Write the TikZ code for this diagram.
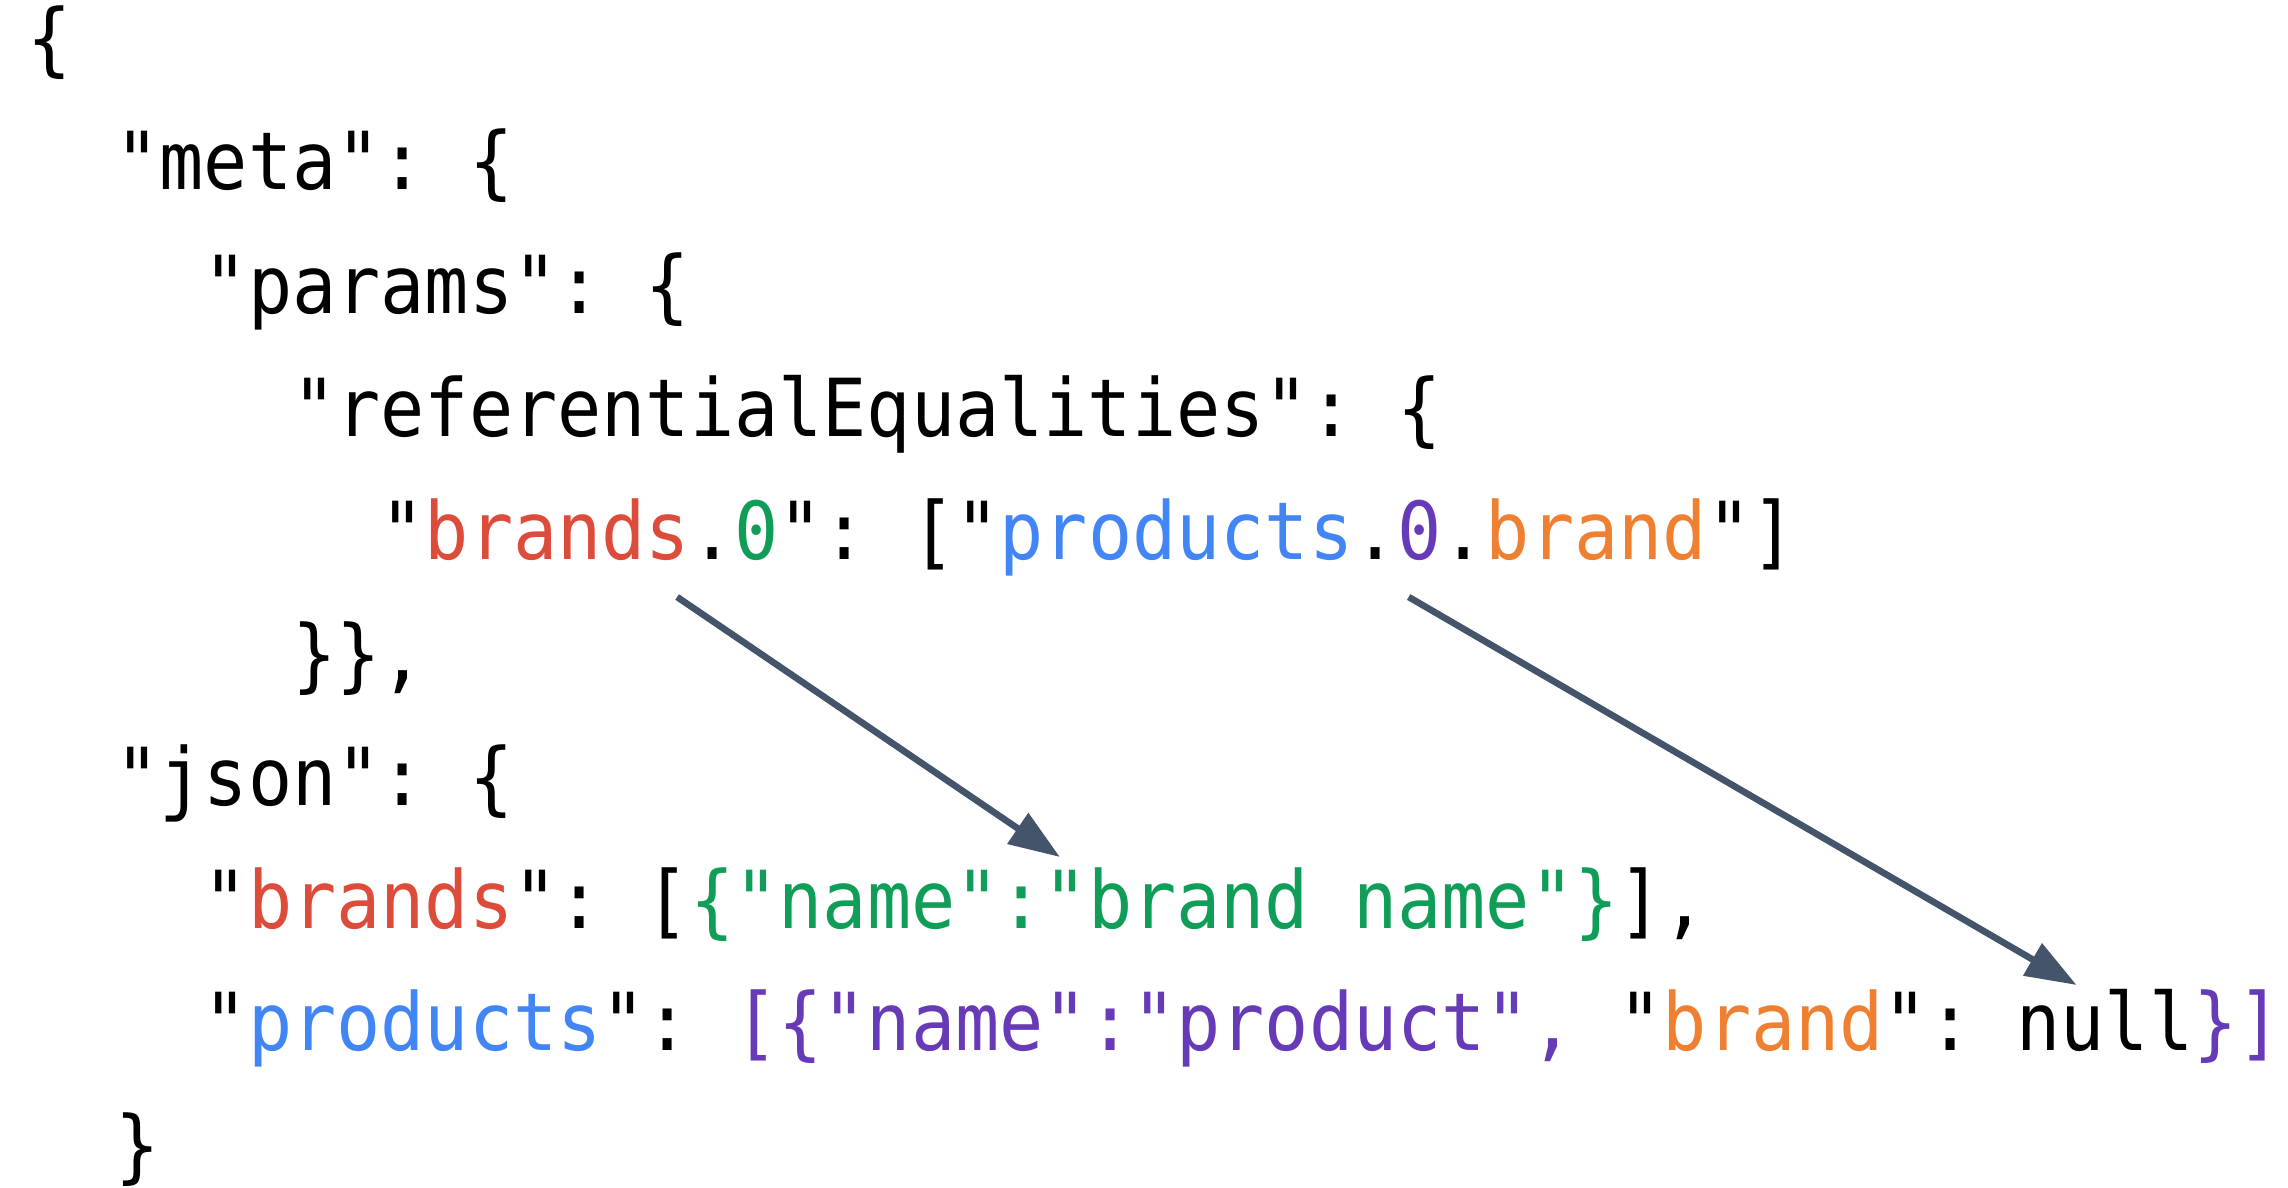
\documentclass[tikz,border=0pt]{standalone}
\usepackage{fontspec}
\setmonofont[FakeStretch=0.918]{DejaVu Sans Mono}
\usepackage{tikz}
\usetikzlibrary{arrows.meta,calc,positioning}

\definecolor{keyred}{HTML}{DD4B3A}
\definecolor{idxgreen}{HTML}{0F9D58}
\definecolor{keyblue}{HTML}{4285F4}
\definecolor{idxpurple}{HTML}{673AB7}
\definecolor{keyorange}{HTML}{EF8032}
\definecolor{linkgray}{HTML}{44546A}

\tikzset{
    code/.style={font=\ttfamily\fontsize{40}{48}\selectfont, inner sep=0pt, outer sep=0pt, anchor=base west},
    link/.style={draw=linkgray, line width=3.3pt, -{Triangle[length=25.5pt, width=18pt]}}
}

\begin{document}
\begin{tikzpicture}[x=0.5pt, y=-0.5pt]
        \useasboundingbox (0,0) rectangle (2288,1188);

        \coordinate (l1) at (27, 67);
        \coordinate (l2) at (115.4, 190);
        \coordinate (l3) at (203.8, 313);
        \coordinate (l4) at (292.2, 436);
        \coordinate (l5) at (380.6, 559);
        \coordinate (l6) at (292.2, 682);
        \coordinate (l7) at (115.4, 805);
        \coordinate (l8) at (203.8, 928);
        \coordinate (l9) at (203.8, 1050);
        \coordinate (l10) at (115.4, 1173);

        \node[code] (open1) at (l1) {\{};
        \node[code] (meta2) at (l2) {"meta": \{};
        \node[code] (params3) at (l3) {"params": \{};
        \node[code] (refeq4) at (l4) {"referentialEqualities": \{};

        % "brands.0": ["products.0.brand"]
        \node[code] (q5) at (l5) {"};
        \node[code, text=keyred, base right=0pt of q5] (brands5) {brands};
        \node[code, base right=0pt of brands5] (dot5) {.};
        \node[code, text=idxgreen, base right=0pt of dot5] (zero5) {0};
        \node[code, base right=0pt of zero5] (mid5) {": ["};
        \node[code, text=keyblue, base right=0pt of mid5] (products5) {products};
        \node[code, base right=0pt of products5] (dotb5) {.};
        \node[code, text=idxpurple, base right=0pt of dotb5] (zerob5) {0};
        \node[code, base right=0pt of zerob5] (dotc5) {.};
        \node[code, text=keyorange, base right=0pt of dotc5] (brand5) {brand};
        \node[code, base right=0pt of brand5] (end5) {"]};

        \node[code] (close6) at (l6) {\}\},};
        \node[code] (json7) at (l7) {"json": \{};

        % "brands": [{"name":"brand name"}],
        \node[code] (q8) at (l8) {"};
        \node[code, text=keyred, base right=0pt of q8] (brands8) {brands};
        \node[code, base right=0pt of brands8] (mid8) {": [};
        \node[code, text=idxgreen, base right=0pt of mid8] (key8) {\{"name":};
        \node[code, text=idxgreen, base right=0pt of key8] (val8) {"brand name"\}};
        \node[code, base right=0pt of val8] (end8) {],};

        % "products": [{"name":"product", "brand": null}]
        % (22.1pt = one character cell, for the spaces)
        \node[code] (q9) at (l9) {"};
        \node[code, text=keyblue, base right=0pt of q9] (products9) {products};
        \node[code, base right=0pt of products9] (mid9) {":};
        \node[code, text=idxpurple, base right=22.1pt of mid9] (arr9) {[\{"name":"product",};
        \node[code, base right=22.1pt of arr9] (qb9) {"};
        \node[code, text=keyorange, base right=0pt of qb9] (brand9) {brand};
        \node[code, base right=0pt of brand9] (colon9) {":};
        \node[code, base right=22.1pt of colon9] (null9) {null};
        \node[code, text=idxpurple, base right=0pt of null9] (end9) {\}]};

        \node[code] (close10) at (l10) {\}};

        \draw[link] ($(brands5.base east)+(-13,38)$) -- ($(val8.base west)+(16,-71)$);
        \draw[link] ($(zerob5.base)+(-11,38)$) -- ($(null9.base west)+(60,-65)$);
    \end{tikzpicture}
\end{document}
